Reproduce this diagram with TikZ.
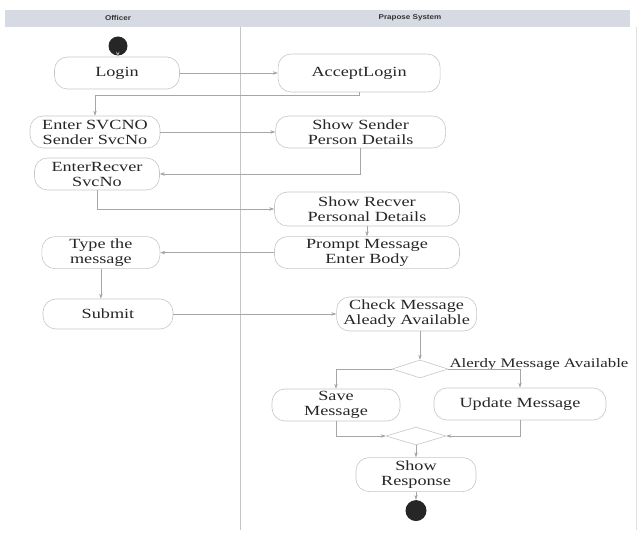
\documentclass[tikz,border=0pt]{standalone}
\usepackage{fontspec}
\setmainfont[FakeStretch=1.3]{Liberation Serif}
\newfontfamily\lanefont[FakeStretch=1.15]{Liberation Sans}
\usepackage{tikz}
\usetikzlibrary{arrows.meta,positioning,shapes.geometric}
\definecolor{laneheader}{HTML}{D6DAE2}

\begin{document}
\begin{tikzpicture}
[x=1pt, y=-1pt, >={Stealth[length=5pt,width=3.5pt]},
font=\fontsize{14}{15}\selectfont,
% STYLES
% The activity style is used for the rounded boxes of both lanes
activity/.style={rectangle, rounded corners=13pt, draw=gray!45, line width=0.6pt, text=black!85, align=center, inner sep=2pt, minimum height=32pt},
% The decision style is used for the branch and merge diamonds
decision/.style={diamond, draw=gray!45, line width=0.6pt, minimum width=56pt, minimum height=18pt, inner sep=0pt},
% start and end dots
dot/.style={circle, fill=black!85, minimum size=19pt, inner sep=0pt},
flow/.style={->, draw=gray!70, line width=0.5pt},
lanetitle/.style={font=\lanefont\bfseries\fontsize{7}{8}\selectfont, text=black!80}]

\useasboundingbox (0,0) rectangle (641,537);

% Draw lanes
\fill[laneheader] (5,10) rectangle (630,27);
\draw[gray!45] (240,27) -- (240,530);
\draw[gray!25] (636,27) -- (636,530);
\node [lanetitle] (officer) at (118,18) {Officer};
\node [lanetitle] (system) at (410,18) {Prapose System};

% Draw activities
\node [dot] (start) at (118,46) {};
\node [activity, minimum width=125pt] (login) at (117,73) {Login};
\node [activity, minimum width=162pt, minimum height=38pt, right=98pt of login] (accept) {AcceptLogin};
\node [activity, minimum width=130pt] (entersvc) at (95,132) {Enter SVCNO\\Sender SvcNo};
\node [activity, minimum width=170pt, right=115pt of entersvc] (showsender) {Show Sender\\Person Details};
\node [activity, minimum width=125pt] (enterrcv) at (97,174) {EnterRecver\\SvcNo};
\node [activity, minimum width=185pt, minimum height=34pt] (showrcv) at (367,209) {Show Recver\\Personal Details};
\node [activity, minimum width=185pt, below=10pt of showrcv] (prompt) {Prompt Message\\Enter Body};
\node [activity, minimum width=118pt, left=114pt of prompt] (typemsg) {Type the\\message};
\node [activity, minimum width=130pt, minimum height=30pt] (submit) at (108,314) {Submit};
\node [activity, minimum width=140pt, minimum height=34pt, right=163pt of submit] (check) {Check Message\\Aleady Available};

% branch
\node [decision] (dec) at (420,369) {};
\node [anchor=south west, inner sep=1pt, yshift=-3pt, font=\fontsize{13}{14}\selectfont, text=black!85] (guard) at (dec.east) {Alerdy Message Available};
\node [activity, minimum width=128pt] (save) at (336,405) {Save\\Message};
\node [activity, minimum width=172pt] (update) at (520,404) {Update Message};
\node [decision, minimum width=60pt] (merge) at (416,436) {};
\node [activity, minimum width=120pt, minimum height=34pt, below=12pt of merge] (response) {Show\\Response};
\node [dot, minimum size=21pt, below=8pt of response] (end) {};

% Draw the links between activities
\draw[flow] (start) -- (login);
\draw[flow] (login) -- (accept);
\draw[flow] (accept.south) -- ++(0,3) -| (entersvc.north);
\draw[flow] (entersvc) -- (showsender);
\draw[flow] (showsender.south) |- (enterrcv.east);
\draw[flow] (enterrcv.south) |- (showrcv.west);
\draw[flow] (showrcv) -- (prompt);
\draw[flow] (prompt) -- (typemsg);
\draw[flow] (typemsg.south) -- (typemsg.south |- submit.north);
\draw[flow] (submit) -- (check);
\draw[flow] (check.south -| dec.north) -- (dec.north);
\draw[flow] (dec.west) -| (save.north);
\draw[flow] (dec.east) -| (update.north);
\draw[flow] (save.south) |- (merge.west);
\draw[flow] (update.south) |- (merge.east);
\draw[flow] (merge) -- (response);
\draw[flow] (response) -- (end);

\end{tikzpicture}
\end{document}
